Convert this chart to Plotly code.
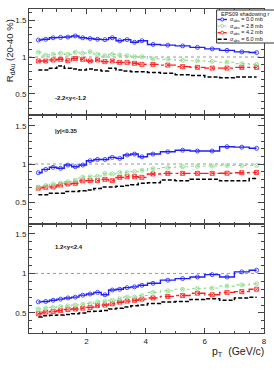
import plotly.graph_objects as go

# ---------------- data ----------------
pt = [0.375, 0.625, 0.875, 1.125, 1.375, 1.625, 1.875, 2.125, 2.375, 2.625, 2.875, 3.125,
      3.375, 3.625, 3.875, 4.25, 4.75, 5.25, 5.75, 6.25, 6.75, 7.25, 7.75]

series_names = ["σ<sub>abs</sub> = 0.0 mb", "σ<sub>abs</sub> = 2.8 mb",
                "σ<sub>abs</sub> = 4.2 mb", "σ<sub>abs</sub> = 6.0 mb"]
rapidity_labels = ["-2.2<y<-1.2", "|y|<0.35", "1.2<y<2.4"]

# backward rapidity (-2.2<y<-1.2)
bwd_s00 = [1.23, 1.24, 1.26, 1.265, 1.27, 1.285, 1.26, 1.25, 1.24, 1.235, 1.26, 1.22, 1.235, 1.20, 1.22,
           1.17, 1.16, 1.15, 1.13, 1.11, 1.09, 1.07, 1.06]
bwd_s28 = [1.063, 1.027, 1.036, 1.05, 1.036, 1.063, 1.05, 1.072, 1.036, 1.018, 1.036, 1.027, 1.018, 1.005, 1.005,
           0.975, 0.97, 0.955, 0.95, 0.94, 0.93, 0.91, 0.90]
bwd_s42 = [0.946, 0.946, 0.96, 0.969, 0.95, 0.98, 0.969, 0.946, 0.96, 0.937, 0.946, 0.928, 0.928, 0.915, 0.90,
           0.90, 0.89, 0.87, 0.86, 0.85, 0.85, 0.86, 0.86]
bwd_s60 = [0.824, 0.824, 0.847, 0.88, 0.847, 0.838, 0.824, 0.838, 0.824, 0.81, 0.847, 0.824, 0.81, 0.80, 0.80,
           0.79, 0.78, 0.76, 0.75, 0.73, 0.72, 0.73, 0.73]

# mid rapidity (|y|<0.35)
mid_s00 = [0.887, 0.93, 0.957, 0.944, 0.987, 0.965, 0.987, 1.043, 1.06, 1.06, 1.087, 1.074, 1.117, 1.13, 1.095,
           1.13, 1.16, 1.18, 1.17, 1.17, 1.226, 1.22, 1.205]
mid_s28 = [0.70, 0.72, 0.74, 0.75, 0.77, 0.79, 0.83, 0.835, 0.84, 0.875, 0.87, 0.89, 0.89, 0.90, 0.92,
           0.94, 0.955, 0.965, 0.97, 0.975, 0.98, 0.98, 0.98]
mid_s42 = [0.685, 0.696, 0.70, 0.726, 0.74, 0.748, 0.78, 0.783, 0.783, 0.80, 0.783, 0.826, 0.835, 0.835, 0.826,
           0.87, 0.878, 0.878, 0.878, 0.878, 0.88, 0.887, 0.89]
mid_s60 = [0.60, 0.60, 0.62, 0.62, 0.64, 0.64, 0.65, 0.66, 0.68, 0.70, 0.70, 0.71, 0.72, 0.73, 0.75,
           0.756, 0.79, 0.783, 0.80, 0.80, 0.78, 0.78, 0.81]

# forward rapidity (1.2<y<2.4)
fwd_s00 = [0.64, 0.645, 0.66, 0.675, 0.69, 0.70, 0.725, 0.74, 0.76, 0.73, 0.79, 0.80, 0.82, 0.83, 0.85,
           0.875, 0.915, 0.935, 0.955, 0.985, 0.955, 1.02, 1.04]
fwd_s28 = [0.55, 0.56, 0.57, 0.58, 0.59, 0.60, 0.61, 0.62, 0.64, 0.645, 0.66, 0.68, 0.70, 0.70, 0.72,
           0.76, 0.78, 0.80, 0.81, 0.815, 0.84, 0.855, 0.87]
fwd_s42 = [0.49, 0.51, 0.518, 0.53, 0.543, 0.55, 0.56, 0.57, 0.594, 0.60, 0.615, 0.636, 0.65, 0.66, 0.675,
           0.69, 0.71, 0.72, 0.75, 0.73, 0.76, 0.77, 0.80]
fwd_s60 = [0.45, 0.465, 0.47, 0.475, 0.48, 0.49, 0.50, 0.518, 0.52, 0.53, 0.55, 0.56, 0.575, 0.59, 0.60,
           0.62, 0.64, 0.645, 0.67, 0.68, 0.66, 0.69, 0.70]

panels = [
    [bwd_s00, bwd_s28, bwd_s42, bwd_s60],
    [mid_s00, mid_s28, mid_s42, mid_s60],
    [fwd_s00, fwd_s28, fwd_s42, fwd_s60],
]

# ---------------- styles ----------------
FONT = "Liberation Sans"
AX = "#444444"
colors = ["#1f1fff", "#8fdc8f", "#ff2020", "#000000"]
dashes = ["solid", "dot", "dashdot", "4px,2px"]
widths = [1.4, 1.1, 1.4, 1.5]
symbols = ["circle-open", "circle-x-open", "square-x-open", None]

# plot area in pixels
W, H = 274, 374
L, R, T, B = 29, 7, 9, 41
PW, PH = W - L - R, H - T - B


def px(x):
    return (x - L) / PW


def py(y):
    return (H - B - y) / PH


domains = [[py(115), 1.0], [py(224), py(115)], [0.0, py(224)]]
yranges = [[0.216, 1.649], [0.217, 1.64], [0.246, 1.626]]

fig = go.Figure()

for p, data in enumerate(panels):
    xa = "x" if p == 0 else f"x{p+1}"
    ya = "y" if p == 0 else f"y{p+1}"
    for s in [3, 2, 1, 0]:
        mk = dict(symbol=symbols[s], size=4, color=colors[s], line=dict(width=0.8, color=colors[s])) \
            if symbols[s] else None
        fig.add_trace(go.Scatter(
            x=pt, y=data[s], xaxis=xa, yaxis=ya,
            mode="lines+markers" if symbols[s] else "lines",
            line=dict(color=colors[s], width=widths[s], dash=dashes[s], shape="hvh"),
            marker=mk, name=series_names[s], showlegend=False, hoverinfo="skip",
        ))
    # reference line at 1
    fig.add_shape(type="line", xref=f"{xa} domain", yref=ya, x0=0, x1=1, y0=1, y1=1,
                  line=dict(color="#999999", width=1, dash="dot"), layer="below")

tickfont = dict(family=FONT, size=8, color="#222")
for p in range(3):
    xname = "xaxis" if p == 0 else f"xaxis{p+1}"
    yname = "yaxis" if p == 0 else f"yaxis{p+1}"
    ya = "y" if p == 0 else f"y{p+1}"
    xa = "x" if p == 0 else f"x{p+1}"
    fig.layout[xname] = dict(
        domain=[0, 1], anchor=ya, range=[0.06, 8], tick0=0, dtick=2,
        showline=True, linecolor=AX, linewidth=1, mirror="allticks",
        ticks="inside", ticklen=5, tickcolor=AX, tickwidth=1,
        minor=dict(ticks="inside", dtick=0.5, tick0=0, ticklen=2.5, tickcolor=AX),
        showgrid=False, zeroline=False, tickfont=tickfont,
        showticklabels=(p == 2), matches=None if p == 0 else "x",
    )
    fig.layout[yname] = dict(
        domain=domains[p], anchor=xa, range=yranges[p], tick0=0, dtick=0.5,
        showline=True, linecolor=AX, linewidth=1, mirror="allticks",
        ticks="inside", ticklen=6, tickcolor=AX, tickwidth=1,
        minor=dict(ticks="inside", dtick=0.1, tick0=0, ticklen=3, tickcolor=AX),
        showgrid=False, zeroline=False, tickfont=tickfont,
    )

annotations = []
# rapidity labels
label_pos = [97.7, 131, 247]
for lab, yy in zip(rapidity_labels, label_pos):
    annotations.append(dict(text=f"<b>{lab}</b>", xref="paper", yref="paper", x=px(53), y=py(yy),
                            xanchor="left", yanchor="middle", showarrow=False,
                            font=dict(family=FONT, size=6, color="#111")))
# axis titles
annotations.append(dict(text="R<sub>dAu</sub> (20-40 %)", xref="paper", yref="paper", x=px(10), y=py(51),
                        xanchor="center", yanchor="middle", textangle=-90, showarrow=False,
                        font=dict(family=FONT, size=9.5, color="#222")))
annotations.append(dict(text="p<sub>T</sub>  (GeV/c)", xref="paper", yref="paper", x=px(269), y=py(352),
                        xanchor="right", yanchor="middle", showarrow=False,
                        font=dict(family=FONT, size=10.5, color="#222")))

# legend (drawn manually)
shapes = []
shapes.append(dict(type="rect", xref="paper", yref="paper", x0=px(219), x1=px(279), y0=py(43), y1=py(10),
                   line=dict(color="#333", width=1), fillcolor="white", layer="above"))
annotations.append(dict(text="EPS09 shadowing r", xref="paper", yref="paper", x=px(221), y=py(14),
                        xanchor="left", yanchor="middle", showarrow=False,
                        font=dict(family=FONT, size=5.5, color="#111")))
leg_y = [19.5, 26, 32.7, 39.3]
for s in range(4):
    yy = leg_y[s]
    shapes.append(dict(type="line", xref="paper", yref="paper", x0=px(220), x1=px(229.5), y0=py(yy), y1=py(yy),
                       line=dict(color=colors[s], width=widths[s], dash=dashes[s]), layer="above"))
    if symbols[s]:
        r = 1.5
        shapes.append(dict(type="circle", xref="paper", yref="paper", x0=px(224.7 - r), x1=px(224.7 + r),
                           y0=py(yy + r), y1=py(yy - r), line=dict(color=colors[s], width=0.9),
                           fillcolor="white", layer="above"))
    annotations.append(dict(text=series_names[s], xref="paper", yref="paper", x=px(230.5), y=py(yy),
                            xanchor="left", yanchor="middle", showarrow=False,
                            font=dict(family=FONT, size=5.5, color="#111")))

fig.update_layout(
    width=W, height=H, margin=dict(l=L, r=R, t=T, b=B),
    paper_bgcolor="white", plot_bgcolor="white",
    annotations=annotations, shapes=list(fig.layout.shapes) + shapes,
    showlegend=False,
)

fig.write_html("out.html", config={"displayModeBar": False},
               post_script="document.body.style.margin='0';document.body.style.overflow='hidden';")
